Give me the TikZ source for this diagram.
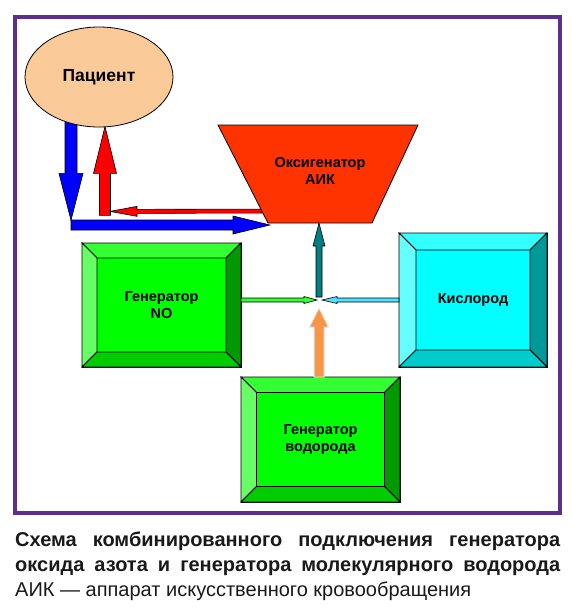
\documentclass[tikz,border=0pt]{standalone}
\usepackage{fontspec}
\setmainfont{Liberation Sans}
\usetikzlibrary{calc,shapes.geometric,backgrounds}

\definecolor{framepurple}{RGB}{94,46,142}
\definecolor{patientpeach}{RGB}{250,202,152}
\definecolor{oxyred}{RGB}{255,51,0}
\definecolor{flowblue}{RGB}{0,0,255}
\definecolor{flowred}{RGB}{255,0,0}
\definecolor{flowteal}{RGB}{0,128,128}
\definecolor{flowgreen}{RGB}{51,255,51}
\definecolor{flowcyan}{RGB}{80,225,255}
\definecolor{floworange}{RGB}{247,150,70}
\definecolor{greenbase}{RGB}{0,255,0}
\definecolor{greentop}{RGB}{51,255,51}
\definecolor{greenleft}{RGB}{102,255,102}
\definecolor{greenright}{RGB}{0,153,0}
\definecolor{greenbottom}{RGB}{0,204,0}
\definecolor{cyanbase}{RGB}{0,255,255}
\definecolor{cyantop}{RGB}{51,255,255}
\definecolor{cyanleft}{RGB}{102,255,255}
\definecolor{cyanright}{RGB}{0,153,153}
\definecolor{cyanbottom}{RGB}{0,204,204}

% block arrow: style, from, to, half shaft, half head, head length
\newcommand{\blockarrow}[6][]{%
  \coordinate (ba-s) at #2;
  \coordinate (ba-e) at #3;
  \coordinate (ba-h) at ($(ba-e)!#6!(ba-s)$);
  \draw[#1] ($(ba-s)!#4!90:(ba-e)$) -- ($(ba-h)!#4!90:(ba-e)$) -- ($(ba-h)!#5!90:(ba-e)$) -- (ba-e)
    -- ($(ba-h)!#5!-90:(ba-e)$) -- ($(ba-h)!#4!-90:(ba-e)$) -- ($(ba-s)!#4!-90:(ba-e)$) -- cycle;
}

% bevel round a box node: node, width, top, left, right, bottom
\newcommand{\bevel}[6]{%
  \coordinate (#1-inw) at ($(#1.north west)+(#2,#2)$);
  \coordinate (#1-ine) at ($(#1.north east)+(-#2,#2)$);
  \coordinate (#1-ise) at ($(#1.south east)+(-#2,-#2)$);
  \coordinate (#1-isw) at ($(#1.south west)+(#2,-#2)$);
  \filldraw[fill=#3] (#1.north west) -- (#1.north east) -- (#1-ine) -- (#1-inw) -- cycle;
  \filldraw[fill=#4] (#1.north west) -- (#1.south west) -- (#1-isw) -- (#1-inw) -- cycle;
  \filldraw[fill=#5] (#1.north east) -- (#1.south east) -- (#1-ise) -- (#1-ine) -- cycle;
  \filldraw[fill=#6] (#1.south west) -- (#1.south east) -- (#1-ise) -- (#1-isw) -- cycle;
}

\tikzset{
  boxtext/.style={font=\fontsize{14.5}{17}\selectfont\bfseries, align=center},
  genbox/.style={boxtext, draw=black, outer sep=0pt, inner sep=0pt},
  arrowline/.style={draw=black, line width=0.6pt, line join=miter},
}

\begin{document}
\begin{tikzpicture}[x=1pt, y=-1pt, line width=0.8pt]
  \useasboundingbox (0,0) rectangle (572,614);

  % Frame
  \draw[framepurple, line width=4pt] (15,17) rectangle (560,513);

  % Patient
  \node[ellipse, draw=black, fill=patientpeach, minimum width=148pt, minimum height=100pt,
    inner sep=0pt, font=\fontsize{17.5}{20}\selectfont\bfseries] (patient) at (99,77) {Пациент};

  % Oxygenator
  \coordinate (oxy-tl) at (218,125);
  \coordinate (oxy-tr) at (418,125);
  \coordinate (oxy-br) at (372,223);
  \coordinate (oxy-bl) at (268,223);
  \filldraw[fill=oxyred] (oxy-tl) -- (oxy-tr) -- (oxy-br) -- (oxy-bl) -- cycle;
  \node[boxtext] (oxy) at (320,171) {Оксигенатор\\АИК};

  % Generators
  \node[genbox, fill=greenbase, minimum width=159pt, minimum height=124pt] (gno) at (161.5,305) {Генератор\\NO};
  \bevel{gno}{15}{greentop}{greenleft}{greenright}{greenbottom}
  \node[genbox, fill=cyanbase, minimum width=148pt, minimum height=134pt] (kis) at (473,300) {Кислород};
  \bevel{kis}{17}{cyantop}{cyanleft}{cyanright}{cyanbottom}
  \node[genbox, fill=greenbase, minimum width=159pt, minimum height=125pt] (hgen) at (320.5,439.5) {Генератор\\водорода};
  \bevel{hgen}{15.5}{greentop}{greenleft}{greenright}{greenbottom}

  % Blood circuit
  \begin{pgfonlayer}{background}
    \coordinate (blue-tip) at ($(patient.south)+(-28,93)$);
    \coordinate (red-tip) at ($(patient.south)+(6,-1)$);
    \coordinate (red-low) at ($(red-tip)+(0,89)$);
    \blockarrow[arrowline, fill=flowblue]{($(patient.south)+(-28,-15)$)}{(blue-tip)}{6pt}{12pt}{47pt}
    \blockarrow[arrowline, fill=flowblue]{(blue-tip |- 0,225)}{($(oxy-bl)+(2,2)$)}{5pt}{9pt}{37pt}
    \blockarrow[arrowline, fill=flowred]{(red-low)}{(red-tip)}{5.5pt}{11.5pt}{47pt}
    \blockarrow[arrowline, fill=flowred]{($(oxy-bl)+(10,-12)$)}{($(red-low)+(5,-4)$)}{2pt}{5pt}{27pt}
  \end{pgfonlayer}

  % Gas mixing
  \coordinate (mix) at (319,300);
  \blockarrow[arrowline, fill=flowteal]{($(mix)+(0,-3)$)}{(mix |- oxy-bl)}{3pt}{6pt}{23pt}
  \blockarrow[arrowline, fill=flowgreen]{(gno.east |- mix)}{($(mix)+(-2,0)$)}{2pt}{3.5pt}{13pt}
  \blockarrow[arrowline, fill=flowcyan]{(kis.west |- mix)}{($(mix)+(3,0)$)}{2pt}{3.5pt}{15pt}
  \blockarrow[draw=white!80!gray, line width=1pt, fill=floworange]{(mix |- hgen.north)}{($(mix)+(0,8)$)}{5pt}{9.5pt}{19pt}

  % Caption
  \node[anchor=north west, inner sep=0pt, align=left, text=black!90,
    font=\fontsize{20}{25}\selectfont] (caption) at (15,532)
    {\makebox[545pt][s]{\bfseries Схема комбинированного подключения генератора}\\
     \makebox[545pt][s]{\bfseries оксида азота и генератора молекулярного водорода}\\
     АИК — аппарат искусственного кровообращения};
\end{tikzpicture}
\end{document}
